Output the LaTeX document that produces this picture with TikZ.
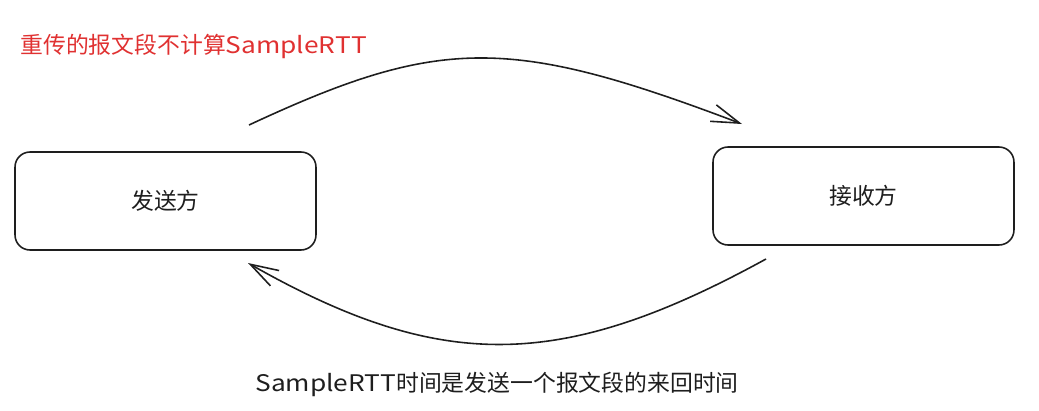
\documentclass[tikz,border=0pt]{standalone}
\usepackage{fontspec}
\newfontfamily\cjk{Noto Sans CJK SC}
\newfontfamily\hand[FakeStretch=1.15]{Noto Sans CJK SC}
\usetikzlibrary{arrows.meta,positioning}
\definecolor{inkdark}{HTML}{1E1E1E}
\definecolor{inkred}{HTML}{E03131}
\tikzset{
  party/.style={draw=inkdark, line width=0.9pt, rounded corners=0.3cm,
    minimum width=6.02cm, minimum height=1.96cm, text=inkdark,
    font=\cjk\fontsize{13}{15}\selectfont},
  flow/.style={draw=inkdark, line width=0.9pt,
    -{Straight Barb[length=16pt,width=10pt,line width=0.9pt]}},
  note/.style={font=\cjk\fontsize{13}{15}\selectfont, inner sep=0pt}
}
\newcommand{\srtt}{{\hand SampleRTT}}
\begin{document}
\begin{tikzpicture}[x=0.02cm,y=-0.02cm]
  \useasboundingbox (0,0) rectangle (1039,410);
  % the two ends
  \node[party] (sender) at (165.5,201) {发送方};
  \node[party] (receiver) at (863.5,196) {接收方};
  % free ends of the two arcs
  \coordinate (sendout) at (249,125);
  \coordinate (recvin) at (742,124);
  \coordinate (recvout) at (766,259);
  \coordinate (sendin) at (248,263);
  \draw[flow] (sendout) .. controls (440,36) and (510,36) .. (recvin);
  \draw[flow] (recvout) .. controls (560,372) and (440,372) .. (sendin);
  % labels
  \node[note, text=inkred, anchor=west] (retrans) at (20,46) {重传的报文段不计算\srtt};
  \node[note, text=inkdark, anchor=west] (rttnote) at (255,384) {\srtt 时间是发送一个报文段的来回时间};
\end{tikzpicture}
\end{document}
